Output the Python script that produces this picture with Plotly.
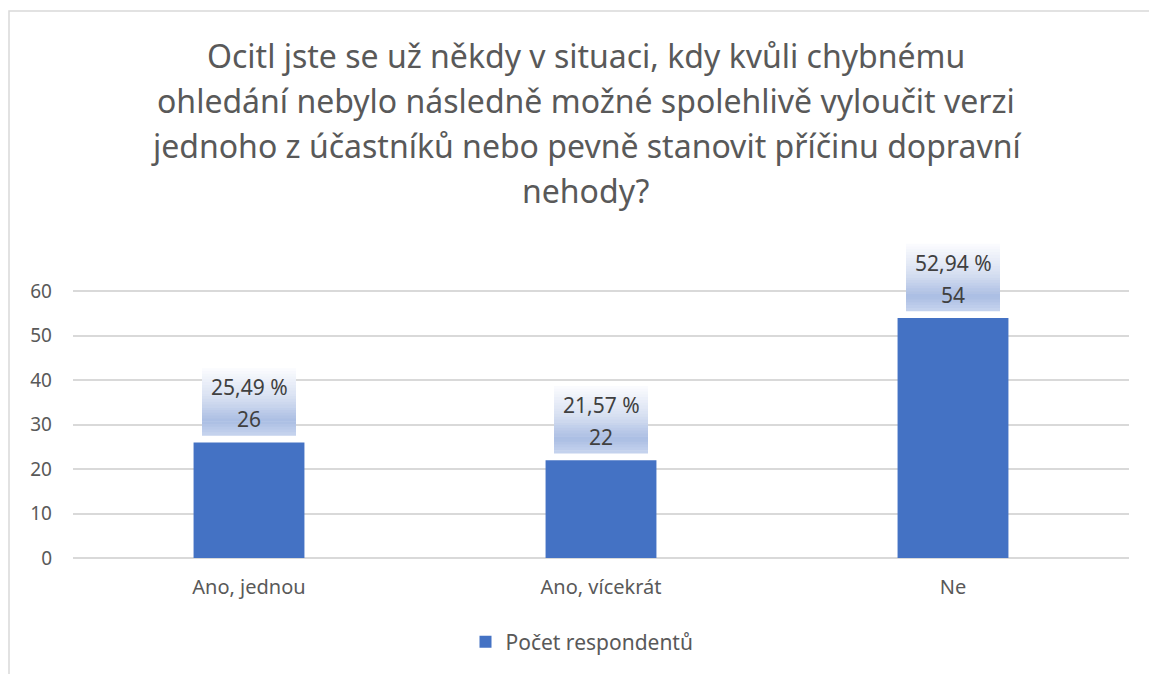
import plotly.graph_objects as go

categories = ["Ano, jednou", "Ano, vícekrát", "Ne"]
counts = [26, 22, 54]
percent_labels = ["25,49 %", "21,57 %", "52,94 %"]
series_name = "Počet respondentů"
title_lines = [
    "Ocitl jste se už někdy v situaci, kdy kvůli chybnému",
    "ohledání nebylo následně možné spolehlivě vyloučit verzi",
    "jednoho z účastníků nebo pevně stanovit příčinu dopravní",
    "nehody?",
]
y_ticks = [0, 10, 20, 30, 40, 50, 60]
y_max = 72

W, H = 1149, 674
ML, MR, MT, MB = 73, 20, 238, 116
PW, PH = W - ML - MR, H - MT - MB

FONT = "Noto Sans"
BAR_COLOR = "#4472C4"
GRID = "#d9d9d9"
TXT = "#595959"

fig = go.Figure()
fig.add_trace(go.Bar(
    x=categories, y=counts, name=series_name,
    marker=dict(color=BAR_COLOR, line=dict(width=0)),
    showlegend=True,
))

# gradient label boxes
def lerp(c1, c2, t):
    return tuple(int(round(a + (b - a) * t)) for a, b in zip(c1, c2))

stops = [(0.0, (250, 251, 254)), (0.45, (214, 223, 241)), (0.8, (170, 189, 227)), (1.0, (196, 210, 237))]

def grad_color(t):
    for (t0, c0), (t1, c1) in zip(stops[:-1], stops[1:]):
        if t0 <= t <= t1:
            return "rgb(%d,%d,%d)" % lerp(c0, c1, (t - t0) / (t1 - t0))
    return "rgb(%d,%d,%d)" % stops[-1][1]

BOX_W, BOX_H, BOX_GAP, N = 94, 67, 7, 24
shapes = []
for i, v in enumerate(counts):
    for k in range(N):
        t = k / (N - 1)  # 0 = top
        top = BOX_GAP + BOX_H - k * BOX_H / N
        bot = BOX_GAP + BOX_H - (k + 1) * BOX_H / N
        shapes.append(dict(
            type="rect", xref="x", yref="y",
            xsizemode="pixel", xanchor=i, x0=-BOX_W / 2, x1=BOX_W / 2,
            ysizemode="pixel", yanchor=v, y0=bot - 0.3, y1=top + 0.3,
            line=dict(width=0), fillcolor=grad_color(t), layer="above",
        ))

# chart frame (left and top edges visible)
shapes.append(dict(
    type="rect", xref="paper", yref="paper",
    x0=(9 - ML) / PW, x1=(W + 50 - ML) / PW,
    y0=-(MB + 50) / PH, y1=(MT + PH - 11) / PH,
    line=dict(color=GRID, width=1.5), fillcolor="rgba(0,0,0,0)", layer="below",
))

annotations = []
for i, (v, p) in enumerate(zip(counts, percent_labels)):
    annotations.append(dict(
        x=i, y=v, xref="x", yref="y", text=p, showarrow=False,
        yanchor="middle", yshift=55,
        font=dict(family=FONT, size=21, color="#404040"),
    ))
    annotations.append(dict(
        x=i, y=v, xref="x", yref="y", text=str(v), showarrow=False,
        yanchor="middle", yshift=23,
        font=dict(family=FONT, size=21, color="#404040"),
    ))

# title lines
title_centers = [56, 101, 146, 191]
for line, cy in zip(title_lines, title_centers):
    annotations.append(dict(
        x=(586 - ML) / PW, y=(MT + PH - cy) / PH, xref="paper", yref="paper",
        text=line, showarrow=False, xanchor="center", yanchor="middle",
        font=dict(family=FONT, size=32, color=TXT),
    ))

fig.update_layout(
    width=W, height=H,
    margin=dict(l=ML, r=MR, t=MT, b=MB, autoexpand=False),
    paper_bgcolor="white", plot_bgcolor="white",
    bargap=0.685,
    xaxis=dict(
        type="category", showgrid=False, showline=False, zeroline=False,
        tickfont=dict(family=FONT, size=20, color=TXT),
        ticks="", ticklabelstandoff=15,
    ),
    yaxis=dict(
        range=[0, y_max], tickvals=y_ticks, showgrid=True, gridcolor=GRID, gridwidth=1.5,
        zeroline=True, zerolinecolor=GRID, zerolinewidth=1.5, showline=False,
        tickfont=dict(family=FONT, size=19, color=TXT),
        ticks="", ticklabelstandoff=20,
    ),
    legend=dict(
        orientation="h", x=582 / W, xref="container", xanchor="center",
        y=1 - 642 / H, yref="container", yanchor="middle",
        font=dict(family=FONT, size=21, color=TXT),
    ),
    shapes=shapes, annotations=annotations,
)

fig.write_html(
    "out.html",
    config={"displayModeBar": False},
    post_script="document.body.style.margin='0';document.body.style.overflow='hidden';",
)
